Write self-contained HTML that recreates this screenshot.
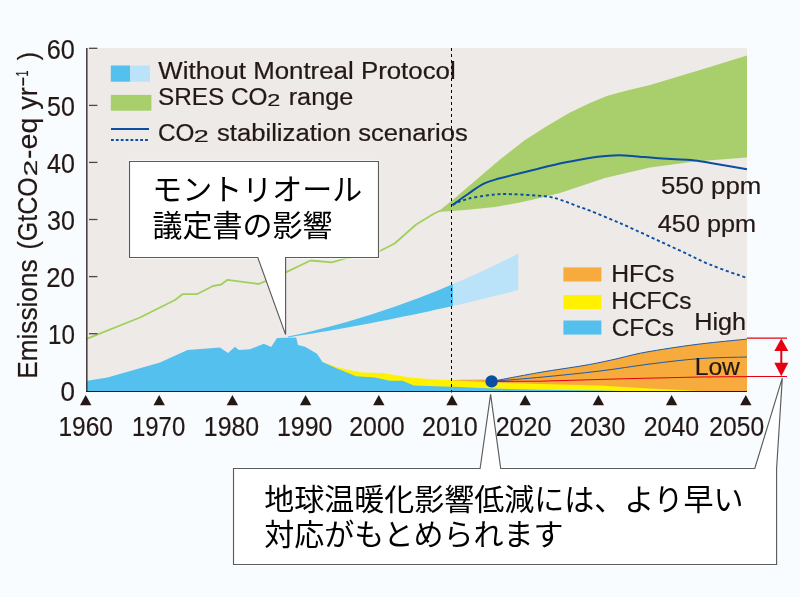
<!DOCTYPE html>
<html lang="ja"><head><meta charset="utf-8"><title>Emissions chart</title>
<style>
html,body{margin:0;padding:0;background:#f8fcfe;}
body{width:800px;height:597px;overflow:hidden;}
svg{display:block;filter:opacity(0.9999);}
text{font-family:"Liberation Sans",sans-serif;fill:#231815;stroke:#231815;stroke-width:0.2px;}
text.jp{font-family:"Liberation Sans","Noto Sans CJK JP",sans-serif;fill:#000;stroke:none;}
</style></head><body>
<svg width="800" height="597" viewBox="0 0 800 597">
<rect x="0" y="0" width="800" height="597" fill="#f8fcfe"/>

<rect x="86" y="48" width="661" height="343.5" fill="#eeeae8"/>
<polygon fill="#a9cf6c" points="438.5,211.3 452.0,200.5 500.0,159.5 525.0,140.0 547.0,126.0 570.0,112.5 590.0,103.0 607.5,95.8 625.0,91.0 650.0,85.0 700.0,70.0 747.0,55.5 747.0,157.6 695.0,161.5 650.0,167.5 605.0,178.0 560.0,193.0 540.0,198.0 520.0,202.5 495.0,207.0 465.0,210.0 438.5,212.0"/>
<polyline fill="none" stroke="#a0d05c" stroke-width="1.8" stroke-linejoin="round" points="86.0,339.2 140.0,317.5 175.0,300.0 182.5,294.2 196.8,294.2 212.5,286.2 221.2,284.5 227.5,279.8 258.8,284.0 266.2,280.8 285.8,272.4 310.5,260.5 331.8,262.3 347.0,258.0 378.5,251.8 394.6,243.5 400.0,238.8 416.2,224.5 433.8,213.8 440.0,210.8"/>
<polygon fill="#54c0ee" points="288.0,336.5 296.2,334.7 304.5,332.9 312.8,330.9 321.0,328.8 329.2,326.7 337.5,324.5 345.8,322.2 354.0,319.8 362.2,317.3 370.5,314.7 378.8,312.0 387.0,309.3 395.2,306.4 403.5,303.5 411.8,300.5 420.0,297.4 428.2,294.2 436.5,290.9 444.8,287.5 453.0,284.1 453.0,305.9 444.8,307.8 436.5,309.6 428.2,311.4 420.0,313.2 411.8,314.9 403.5,316.6 395.2,318.3 387.0,320.0 378.8,321.6 370.5,323.2 362.2,324.7 354.0,326.3 345.8,327.8 337.5,329.2 329.2,330.7 321.0,332.1 312.8,333.5 304.5,334.8 296.2,336.1 288.0,337.4"/>
<polygon fill="#bae3f9" points="453.0,284.1 459.5,281.3 466.1,278.4 472.6,275.5 479.1,272.5 485.6,269.5 492.2,266.5 498.7,263.3 505.2,260.1 511.8,256.9 518.3,253.6 518.3,290.1 511.8,291.7 505.2,293.4 498.7,295.0 492.2,296.6 485.6,298.2 479.1,299.8 472.6,301.4 466.1,302.9 459.5,304.4 453.0,305.9"/>
<path fill="#f6ab3c" d="M446,391.5 L446,380.4 L460,379.7 L485,379.6 L491.6,381.4 C499.7,379.9 524.4,375.1 540.0,372.4 C555.6,369.7 572.5,367.5 585.0,365.3 C597.5,363.1 605.0,361.4 615.0,359.2 C625.0,357.0 631.5,354.8 645.0,352.3 C658.5,349.9 679.0,346.7 696.0,344.5 C713.0,342.3 738.5,340.0 747.0,339.1 L747,391.5 Z"/>
<polygon fill="#fff100" points="322.5,362.0 337.5,367.3 352.5,370.8 362.5,372.5 382.5,373.0 410.0,377.5 435.0,379.5 460.0,380.8 491.6,382.6 540.0,384.0 600.0,385.6 650.0,388.6 700.0,391.0 747.0,391.5 747.0,391.5 322.5,391.5"/>
<polygon fill="#54c0ee" points="86.0,381.0 107.5,377.5 160.0,362.5 187.5,350.0 220.0,347.5 228.0,353.0 235.0,346.8 238.8,350.0 250.0,349.2 263.8,343.8 271.2,347.0 277.0,338.0 296.2,337.5 298.0,345.0 305.0,346.8 317.0,353.8 322.5,362.0 337.5,368.8 356.2,376.2 375.0,377.5 390.0,380.8 402.5,380.8 413.8,385.5 435.0,386.2 460.0,387.0 491.6,388.6 540.0,389.7 600.0,390.6 640.0,391.5 747.0,391.5 747.0,391.5 86.0,391.5"/>
<path fill="none" stroke="#1d5aa8" stroke-width="1" d="M491.6,381.4 C499.7,379.9 524.4,375.1 540.0,372.4 C555.6,369.7 572.5,367.5 585.0,365.3 C597.5,363.1 605.0,361.4 615.0,359.2 C625.0,357.0 631.5,354.8 645.0,352.3 C658.5,349.9 679.0,346.7 696.0,344.5 C713.0,342.3 738.5,340.0 747.0,339.1"/>
<path fill="none" stroke="#1d5aa8" stroke-width="1" d="M491.6,381.4 C499.7,380.7 521.9,379.0 540.0,377.3 C558.1,375.6 581.7,373.2 600.0,371.0 C618.3,368.8 633.3,366.1 650.0,364.0 C666.7,361.9 683.8,359.8 700.0,358.6 C716.2,357.4 739.2,357.3 747.0,357.0"/>
<polyline fill="none" stroke="#e60012" stroke-width="1" points="491.6,381.4 540.0,381.2 630.0,378.6 700.0,377.0 747.0,376.6"/>
<path fill="none" stroke="#0b4ea2" stroke-width="2" d="M452.5,205.0 C455.1,203.2 462.8,197.6 468.0,194.0 C473.2,190.4 478.4,186.2 483.8,183.6 C489.1,181.0 490.6,180.9 500.0,178.3 C509.4,175.8 529.0,171.0 540.0,168.3 C551.0,165.6 557.2,164.1 566.0,162.3 C574.8,160.5 585.8,158.6 592.5,157.5 C599.2,156.4 601.6,156.4 606.0,156.0 C610.4,155.6 614.7,155.3 619.0,155.3 C623.3,155.3 627.7,155.6 632.0,155.9 C636.3,156.2 638.5,156.6 645.0,157.1 C651.5,157.6 664.0,158.6 671.0,159.1 C678.0,159.6 682.2,159.5 687.0,159.8 C691.8,160.2 696.1,160.6 700.0,161.2 C703.9,161.8 702.8,161.8 710.6,163.1 C718.4,164.4 740.9,168.3 747.0,169.3"/>
<path fill="none" stroke="#0b4ea2" stroke-width="1.9" stroke-dasharray="3.1 2.7" d="M452.5,205.0 C454.2,204.2 459.2,201.6 463.0,200.3 C466.8,199.0 469.7,198.3 475.0,197.3 C480.3,196.3 488.8,195.0 495.0,194.5 C501.2,194.0 504.2,193.9 512.5,194.2 C520.8,194.5 537.1,195.4 545.0,196.3 C552.9,197.2 555.0,198.1 560.0,199.6 C565.0,201.1 570.0,203.5 575.0,205.3 C580.0,207.2 582.5,207.7 590.0,210.7 C597.5,213.7 610.0,218.8 620.0,223.2 C630.0,227.5 640.0,232.2 650.0,236.8 C660.0,241.4 670.0,246.0 680.0,250.6 C690.0,255.2 698.8,260.0 710.0,264.6 C721.2,269.2 740.8,275.8 747.0,278.0"/>
<line x1="451.5" y1="48" x2="451.5" y2="392.5" stroke="#000" stroke-width="1" stroke-dasharray="3 3"/>
<circle cx="491.6" cy="381.4" r="6.2" fill="#0b4ea2"/>
<line x1="86.8" y1="48" x2="86.8" y2="392" stroke="#3e3a39" stroke-width="1.5"/>
<line x1="86" y1="391.5" x2="747" y2="391.5" stroke="#231815" stroke-width="1.15"/>
<line x1="89" y1="48.3" x2="97.4" y2="48.3" stroke="#4c4644" stroke-width="1.3"/>
<line x1="89" y1="105.4" x2="97.4" y2="105.4" stroke="#4c4644" stroke-width="1.3"/>
<line x1="89" y1="162.4" x2="97.4" y2="162.4" stroke="#4c4644" stroke-width="1.3"/>
<line x1="89" y1="219.5" x2="97.4" y2="219.5" stroke="#4c4644" stroke-width="1.3"/>
<line x1="89" y1="276.6" x2="97.4" y2="276.6" stroke="#4c4644" stroke-width="1.3"/>
<line x1="89" y1="333.7" x2="97.4" y2="333.7" stroke="#4c4644" stroke-width="1.3"/>
<polygon fill="#231815" points="80.0,405.2 91.4,405.2 85.7,395.1"/>
<polygon fill="#231815" points="153.5,405.2 164.9,405.2 159.2,395.1"/>
<polygon fill="#231815" points="226.7,405.2 238.1,405.2 232.4,395.1"/>
<polygon fill="#231815" points="299.9,405.2 311.3,405.2 305.6,395.1"/>
<polygon fill="#231815" points="373.1,405.2 384.5,405.2 378.8,395.1"/>
<polygon fill="#231815" points="446.3,405.2 457.7,405.2 452.0,395.1"/>
<polygon fill="#231815" points="519.5,405.2 530.9,405.2 525.2,395.1"/>
<polygon fill="#231815" points="592.7,405.2 604.1,405.2 598.4,395.1"/>
<polygon fill="#231815" points="665.9,405.2 677.3,405.2 671.6,395.1"/>
<polygon fill="#231815" points="740.1,405.2 751.5,405.2 745.8,395.1"/>
<text id="xl1960" x="58.44" y="436.0" font-size="28" textLength="54.42" lengthAdjust="spacingAndGlyphs">1960</text>
<text id="xl1970" x="131.98" y="436.0" font-size="28" textLength="53.26" lengthAdjust="spacingAndGlyphs">1970</text>
<text id="xl1980" x="203.80" y="436.0" font-size="28" textLength="55.37" lengthAdjust="spacingAndGlyphs">1980</text>
<text id="xl1990" x="277.00" y="436.0" font-size="28" textLength="55.37" lengthAdjust="spacingAndGlyphs">1990</text>
<text id="xl2000" x="349.25" y="436.0" font-size="28" textLength="55.43" lengthAdjust="spacingAndGlyphs">2000</text>
<text id="xl2010" x="421.94" y="436.0" font-size="28" textLength="55.84" lengthAdjust="spacingAndGlyphs">2010</text>
<text id="xl2020" x="495.64" y="436.0" font-size="28" textLength="55.84" lengthAdjust="spacingAndGlyphs">2020</text>
<text id="xl2030" x="569.84" y="436.0" font-size="28" textLength="55.53" lengthAdjust="spacingAndGlyphs">2030</text>
<text id="xl2040" x="643.75" y="436.0" font-size="28" textLength="55.43" lengthAdjust="spacingAndGlyphs">2040</text>
<text id="xl2050" x="709.36" y="436.0" font-size="28" textLength="54.70" lengthAdjust="spacingAndGlyphs">2050</text>
<text id="yl60" x="46.82" y="58.7" font-size="28" textLength="28.07" lengthAdjust="spacingAndGlyphs">60</text>
<text id="yl50" x="47.10" y="115.8" font-size="28" textLength="27.78" lengthAdjust="spacingAndGlyphs">50</text>
<text id="yl40" x="47.03" y="172.8" font-size="28" textLength="27.85" lengthAdjust="spacingAndGlyphs">40</text>
<text id="yl30" x="47.05" y="229.9" font-size="28" textLength="27.83" lengthAdjust="spacingAndGlyphs">30</text>
<text id="yl20" x="46.31" y="287.0" font-size="28" textLength="28.60" lengthAdjust="spacingAndGlyphs">20</text>
<text id="yl10" x="47.96" y="344.1" font-size="28" textLength="26.89" lengthAdjust="spacingAndGlyphs">10</text>
<text id="yl0" x="60.39" y="401.1" font-size="28" textLength="14.43" lengthAdjust="spacingAndGlyphs">0</text>
<text id="yt1" transform="translate(37.0,376.7) rotate(-90)" x="-2.15" y="0" font-size="28" textLength="119.40" lengthAdjust="spacingAndGlyphs">Emissions</text>
<text id="yt2" transform="translate(37.0,248.0) rotate(-90)" x="-1.55" y="0" font-size="28" textLength="72.35" lengthAdjust="spacingAndGlyphs">(GtCO</text>
<text id="yt3" transform="translate(37.2,174.8) rotate(-90)" x="-1.49" y="0" font-size="18.4" textLength="16.48" lengthAdjust="spacingAndGlyphs">2</text>
<text id="yt4" transform="translate(37.0,157.7) rotate(-90)" x="-1.27" y="0" font-size="28" textLength="41.41" lengthAdjust="spacingAndGlyphs">-eq</text>
<text id="yt5" transform="translate(37.0,109.8) rotate(-90)" x="-0.07" y="0" font-size="28" textLength="22.62" lengthAdjust="spacingAndGlyphs">yr</text>
<text id="yt6" transform="translate(29.2,85.6) rotate(-90)" x="-1.42" y="0" font-size="20" textLength="10.64" lengthAdjust="spacingAndGlyphs">-</text>
<text id="yt7" transform="translate(27.8,75.8) rotate(-90)" x="-0.81" y="0" font-size="16.3" textLength="5.93" lengthAdjust="spacingAndGlyphs">1</text>
<text id="yt8" transform="translate(37.0,60.0) rotate(-90)" x="-0.14" y="0" font-size="28" textLength="8.16" lengthAdjust="spacingAndGlyphs">)</text>
<rect x="110.8" y="65.5" width="19.3" height="16.2" fill="#54c0ee"/><rect x="130.1" y="65.5" width="19.9" height="16.2" fill="#bae3f9"/>
<rect x="110.8" y="94.9" width="40.6" height="15.8" fill="#a9cf6c"/>
<line x1="111" y1="129" x2="149" y2="129" stroke="#0b4ea2" stroke-width="2"/>
<line x1="111" y1="140" x2="149" y2="140" stroke="#0b4ea2" stroke-width="1.9" stroke-dasharray="2.8 2.07"/>
<text id="lg1" x="158.39" y="79.0" font-size="23" textLength="297.34" lengthAdjust="spacingAndGlyphs">Without Montreal Protocol</text>
<text id="lg2a" x="157.99" y="105.2" font-size="23" textLength="109.57" lengthAdjust="spacingAndGlyphs">SRES CO</text>
<text id="lg2b" x="267.32" y="106.2" font-size="17" textLength="13.06" lengthAdjust="spacingAndGlyphs">2</text>
<text id="lg2c" x="288.73" y="105.2" font-size="23" textLength="64.50" lengthAdjust="spacingAndGlyphs">range</text>
<text id="lg3a" x="158.07" y="140.6" font-size="23" textLength="36.39" lengthAdjust="spacingAndGlyphs">CO</text>
<text id="lg3b" x="193.74" y="141.6" font-size="17" textLength="15.02" lengthAdjust="spacingAndGlyphs">2</text>
<text id="lg3c" x="216.99" y="140.6" font-size="23" textLength="250.94" lengthAdjust="spacingAndGlyphs">stabilization scenarios</text>
<text id="p550" x="660.97" y="193.6" font-size="23" textLength="100.23" lengthAdjust="spacingAndGlyphs">550 ppm</text>
<text id="p450" x="657.82" y="232.0" font-size="23" textLength="98.24" lengthAdjust="spacingAndGlyphs">450 ppm</text>
<rect x="563.4" y="267.4" width="38" height="14.1" fill="#f6ab3c"/>
<rect x="563.4" y="295" width="38" height="14.1" fill="#fff100"/>
<rect x="563.4" y="320.5" width="38" height="14.1" fill="#54c0ee"/>
<text id="hfc" x="611.17" y="281.5" font-size="23" textLength="63.12" lengthAdjust="spacingAndGlyphs">HFCs</text>
<text id="hcfc" x="611.19" y="309.0" font-size="23" textLength="80.30" lengthAdjust="spacingAndGlyphs">HCFCs</text>
<text id="cfc" x="611.77" y="335.8" font-size="23" textLength="62.11" lengthAdjust="spacingAndGlyphs">CFCs</text>
<text id="high" x="694.23" y="329.7" font-size="23" textLength="51.91" lengthAdjust="spacingAndGlyphs">High</text>
<text id="low" x="694.68" y="374.8" font-size="23" textLength="45.26" lengthAdjust="spacingAndGlyphs">Low</text>
<line x1="747" y1="338.2" x2="787" y2="338.2" stroke="#e60012" stroke-width="1.2"/>
<line x1="747" y1="376.5" x2="787" y2="376.5" stroke="#e60012" stroke-width="1.2"/>
<polygon fill="#e60012" points="781.3,338.4 788.3,351 774.3,351"/>
<polygon fill="#e60012" points="781.3,376.3 788.3,362.7 774.3,362.7"/>
<line x1="781.3" y1="350" x2="781.3" y2="364" stroke="#e60012" stroke-width="2"/>
<rect x="129.5" y="161.5" width="249" height="96" fill="#fff" stroke="#fff" stroke-opacity="0.55" stroke-width="3.4"/>
<path fill="#fff" stroke="#5a5b5b" stroke-width="1.15" d="M129.5,161.5 H378.5 V257.5 H285.6 V334.6 L257.8,257.5 H129.5 Z"/>
<text class="jp" x="152.2" y="200.0" font-size="30">モントリオール</text>
<text class="jp" x="152.4" y="236.1" font-size="30">議定書の影響</text>
<rect x="233.5" y="468.5" width="543.1" height="96" fill="#fff" stroke="#fff" stroke-opacity="0.8" stroke-width="3.4"/>
<path fill="#fff" stroke="#5a5b5b" stroke-width="1.15" d="M233.5,468.5 H480.1 L490.6,394.3 L500.7,468.5 H754.8 L782.3,378.1 L776.6,468.5 V564.5 H233.5 Z"/>
<text class="jp" x="264.2" y="509.7" font-size="30">地球温暖化影響低減には、より早い</text>
<text class="jp" x="264.2" y="545.0" font-size="30">対応がもとめられます</text>
</svg>
</body></html>
